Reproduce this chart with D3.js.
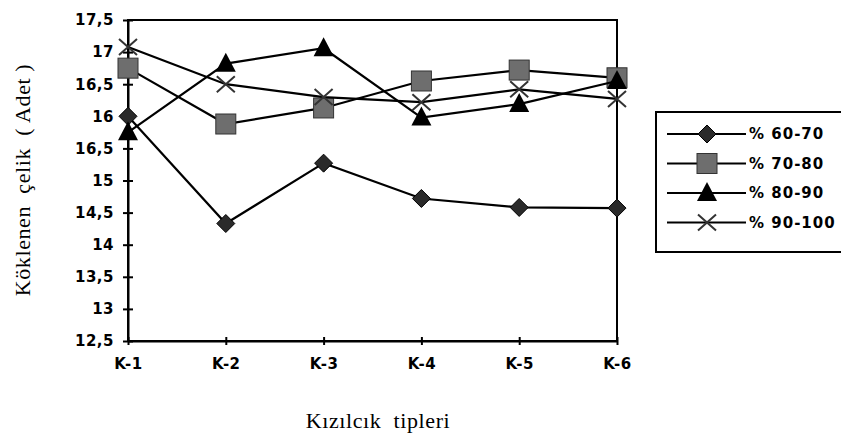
<!DOCTYPE html>
<html lang="tr">
<head>
<meta charset="UTF-8">
<title>Köklenen çelik</title>
<script src="https://d3js.org/d3.v7.min.js"></script>
<style>
    body { margin: 0; background: #fff; }
    .tick text { font-family: "DejaVu Sans", Arial, sans-serif; font-weight: bold; font-size: 15px; letter-spacing: 0.5px; fill: #000; }
    .title { font-family: "Liberation Serif", "Times New Roman", serif; font-size: 22px; letter-spacing: 0.6px; fill: #000; white-space: pre; }
    .leg text { font-family: "DejaVu Sans", Arial, sans-serif; font-weight: bold; font-size: 15px; letter-spacing: 1px; }
</style>
</head>
<body>
<svg id="chart" width="841" height="448"></svg>
<script>
    // data
    let types = ["K-1", "K-2", "K-3", "K-4", "K-5", "K-6"]
    let seriesNames = ["% 60-70", "% 70-80", "% 80-90", "% 90-100"]
    let s6070 = [16.0, 14.33, 15.27, 14.72, 14.58, 14.57]
    let s7080 = [16.75, 15.88, 16.13, 16.55, 16.72, 16.6]
    let s8090 = [15.75, 16.82, 17.06, 15.98, 16.19, 16.55]
    let s90100 = [17.08, 16.5, 16.3, 16.22, 16.42, 16.27]
    let yTicks = [12.5, 13, 13.5, 14, 14.5, 15, 15.5, 16, 16.5, 17, 17.5]
    let yTickLabels = ["12,5", "13", "13,5", "14", "14,5", "15", "16,5", "16", "16,5", "17", "17,5"]

    let allSeries = [s6070, s7080, s8090, s90100]
    let markers = ["diamond", "square", "triangle", "cross"]

    let svg = d3.select("#chart")
    let plotLeft = 128, plotRight = 617, plotTop = 20, plotBottom = 341

    let x = d3.scalePoint().domain(types).range([plotLeft, plotRight])
    let y = d3.scaleLinear().domain([12.5, 17.5]).range([plotBottom, plotTop])

    // frame
    svg.append("rect")
        .attr("x", plotLeft).attr("y", plotTop)
        .attr("width", plotRight - plotLeft).attr("height", plotBottom - plotTop)
        .attr("fill", "none").attr("stroke", "#000").attr("stroke-width", 2)

    let yAxis = svg.append("g")
        .attr("transform", "translate(" + plotLeft + ",0)")
        .call(d3.axisLeft(y).tickValues(yTicks)
            .tickFormat((d, i) => yTickLabels[i]).tickSizeInner(5).tickSizeOuter(0).tickPadding(9))
    yAxis.select(".domain").attr("stroke-width", 2)
    yAxis.selectAll(".tick line").attr("x2", 5).attr("x1", -5).attr("stroke-width", 2)

    let xAxis = svg.append("g")
        .attr("transform", "translate(0," + plotBottom + ")")
        .call(d3.axisBottom(x).tickSizeInner(4).tickSizeOuter(0).tickPadding(13))
    xAxis.select(".domain").attr("stroke-width", 2)
    xAxis.selectAll(".tick line").attr("y1", -4).attr("y2", 4).attr("stroke-width", 2)

    function drawMarker(g, type, cx, cy) {
        if (type == "diamond") {
            g.append("path").attr("d", `M${cx},${cy - 9}L${cx + 9},${cy}L${cx},${cy + 9}L${cx - 9},${cy}Z`)
                .attr("fill", "#2a2a2a").attr("stroke", "#000").attr("stroke-width", 1)
        } else if (type == "square") {
            g.append("rect").attr("x", cx - 10).attr("y", cy - 10).attr("width", 20).attr("height", 20)
                .attr("fill", "#6e6e6e").attr("stroke", "#333").attr("stroke-width", 1)
        } else if (type == "triangle") {
            g.append("path").attr("d", `M${cx},${cy - 11}L${cx + 10},${cy + 8}L${cx - 10},${cy + 8}Z`)
                .attr("fill", "#000")
        } else {
            g.append("path").attr("d", `M${cx - 9},${cy - 8}L${cx + 9},${cy + 8}M${cx - 9},${cy + 8}L${cx + 9},${cy - 8}`)
                .attr("stroke", "#333").attr("stroke-width", 2).attr("fill", "none")
        }
    }

    let line = d3.line().x((d, i) => x(types[i])).y(d => y(d))

    allSeries.forEach(function (vals, k) {
        let g = svg.append("g")
        g.append("path").datum(vals).attr("d", line)
            .attr("fill", "none").attr("stroke", "#000").attr("stroke-width", 2.2)
        vals.forEach(function (v, i) {
            drawMarker(g, markers[k], x(types[i]), y(v))
        })
    })

    // legend
    let leg = svg.append("g").attr("class", "leg")
    leg.append("rect").attr("x", 656).attr("y", 112).attr("width", 200).attr("height", 140)
        .attr("fill", "#fff").attr("stroke", "#000").attr("stroke-width", 2)
    seriesNames.forEach(function (name, k) {
        let ly = 134 + k * 29.5
        let g = leg.append("g")
        g.append("line").attr("x1", 667).attr("x2", 746).attr("y1", ly).attr("y2", ly)
            .attr("stroke", "#000").attr("stroke-width", 2)
        drawMarker(g, markers[k], 707, ly)
        g.append("text").attr("x", 749).attr("y", ly).attr("dy", "0.36em").text(name)
    })

    svg.append("text").attr("class", "title")
        .attr("transform", "translate(30,180) rotate(-90)")
        .attr("text-anchor", "middle")
        .text("Köklenen  çelik  ( Adet )")

    svg.append("text").attr("class", "title")
        .attr("x", 378).attr("y", 428)
        .attr("text-anchor", "middle")
        .text("Kızılcık  tipleri")
</script>
</body>
</html>
